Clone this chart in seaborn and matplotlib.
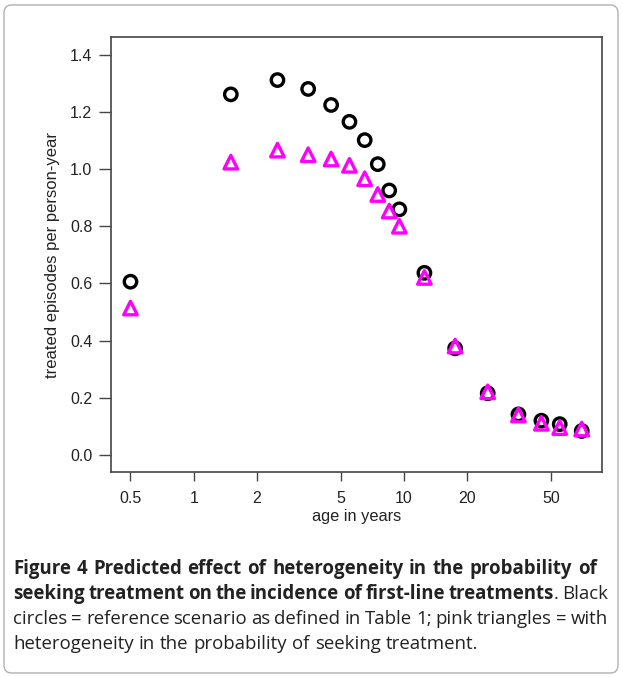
import numpy as np
import pandas as pd
import matplotlib
matplotlib.use("Agg")
import matplotlib.pyplot as plt
import seaborn as sns
from matplotlib.patches import FancyBboxPatch
from matplotlib.ticker import FixedLocator, NullLocator

# age groups (mid points, years)
ages = [0.5, 1.5, 2.5, 3.5, 4.5, 5.5, 6.5, 7.5, 8.5, 9.5,
        12.5, 17.5, 25, 35, 45, 55, 70]
# black circles: reference scenario
reference = [0.606, 1.261, 1.311, 1.280, 1.224, 1.165, 1.101, 1.017, 0.925, 0.859,
             0.637, 0.373, 0.216, 0.142, 0.120, 0.108, 0.084]
# pink triangles: heterogeneity in probability of seeking treatment
heterogeneity = [0.514, 1.024, 1.066, 1.050, 1.035, 1.013, 0.966, 0.911, 0.853, 0.800,
                 0.621, 0.381, 0.221, 0.140, 0.111, 0.096, 0.091]

x_ticks = [0.5, 1, 2, 5, 10, 20, 50]
x_ticklabels = ["0.5", "1", "2", "5", "10", "20", "50"]
y_ticks = [0.0, 0.2, 0.4, 0.6, 0.8, 1.0, 1.2, 1.4]

caption = [
    [("Figure 4 Predicted effect of heterogeneity in the probability of", "bold")],
    [("seeking treatment on the incidence of first-line treatments", "bold"),
     (". Black", "normal")],
    [("circles = reference scenario as defined in Table 1; pink triangles = with", "normal")],
    [("heterogeneity in the probability of seeking treatment.", "normal")],
]
# right edge (px) of each justified caption line, None = ragged last line
caption_right = [597, 608, 608, None]

df = pd.DataFrame({"age": ages, "reference": reference, "heterogeneity": heterogeneity})

sns.set_style("white")
plt.rcParams["font.family"] = ["Liberation Sans", "DejaVu Sans"]

W, H = 623, 677
fig = plt.figure(figsize=(W / 100, H / 100), dpi=100)
ax = fig.add_axes([0.1782, 0.3028, 0.7881, 0.6425])

sns.scatterplot(data=df, x="age", y="reference", ax=ax, marker="o", s=80,
                facecolor="none", edgecolor="black", linewidth=2.4, zorder=3)
sns.scatterplot(data=df, x="age", y="heterogeneity", ax=ax, marker="^", s=95,
                facecolor="none", edgecolor="#ff00ff", linewidth=2.4, zorder=4)

ax.set_xscale("log")
ax.set_xlim(0.404, 87.4)
ax.set_ylim(-0.0594, 1.4615)
ax.xaxis.set_major_locator(FixedLocator(x_ticks))
ax.xaxis.set_minor_locator(NullLocator())
ax.set_xticklabels(x_ticklabels)
ax.set_yticks(y_ticks)
ax.set_yticklabels([f"{v:.1f}" for v in y_ticks])
ax.tick_params(axis="both", direction="out", width=1, color="#444444",
               labelsize=11.5, labelcolor="#222222", left=True, bottom=True)
ax.tick_params(axis="x", length=6.5, pad=7)
ax.tick_params(axis="y", length=8.5, pad=5)
for sp in ax.spines.values():
    sp.set_color("#444444")
    sp.set_linewidth(1.2)
ax.set_xlabel("age in years", fontsize=11.8, color="#222222", labelpad=2)
ax.set_ylabel("treated episodes per person-year", fontsize=12, color="#222222", labelpad=7)

# outer rounded frame
frame = FancyBboxPatch((4 / W, 4 / H), 614 / W, 668 / H,
                       boxstyle="round,pad=0,rounding_size=0.012",
                       transform=fig.transFigure, facecolor="none",
                       edgecolor="#b0b0b0", linewidth=1.0)
fig.patches.append(frame)

# caption: justified lines with mixed weights
fig.canvas.draw()
renderer = fig.canvas.get_renderer()
x0 = 13
y_first = 569
cap_size = 13.4


def layout_line(line, size, y):
    # group words into units (a unit = words glued with no space)
    units = []
    for text, weight in line:
        for j, word in enumerate(text.split(" ")):
            if word == "":
                continue
            t = fig.text(0, y / H, word, fontsize=size, fontweight=weight,
                         family=["Open Sans", "DejaVu Sans"], color="#222222",
                         va="center", ha="left")
            w = t.get_window_extent(renderer).width
            if j == 0 and units and not text.startswith(" "):
                units[-1].append((t, w))
            else:
                units.append([(t, w)])
    return units


for i, line in enumerate(caption):
    y = H - (y_first + 25 * i)
    size = cap_size
    while True:
        units = layout_line(line, size, y)
        total = sum(w for u in units for _, w in u)
        space = 0.27 * size * 100 / 72
        target = caption_right[i]
        if target is not None and len(units) > 1:
            gap = (target - x0 - total) / (len(units) - 1)
        else:
            gap = space
        if gap >= 2.5:
            break
        for u in units:
            for t, _ in u:
                t.remove()
        size -= 0.1
    x = x0
    for k, u in enumerate(units):
        for t, w in u:
            t.set_x(x / W)
            x += w
        x += gap

fig.savefig("out.png", dpi=100)
